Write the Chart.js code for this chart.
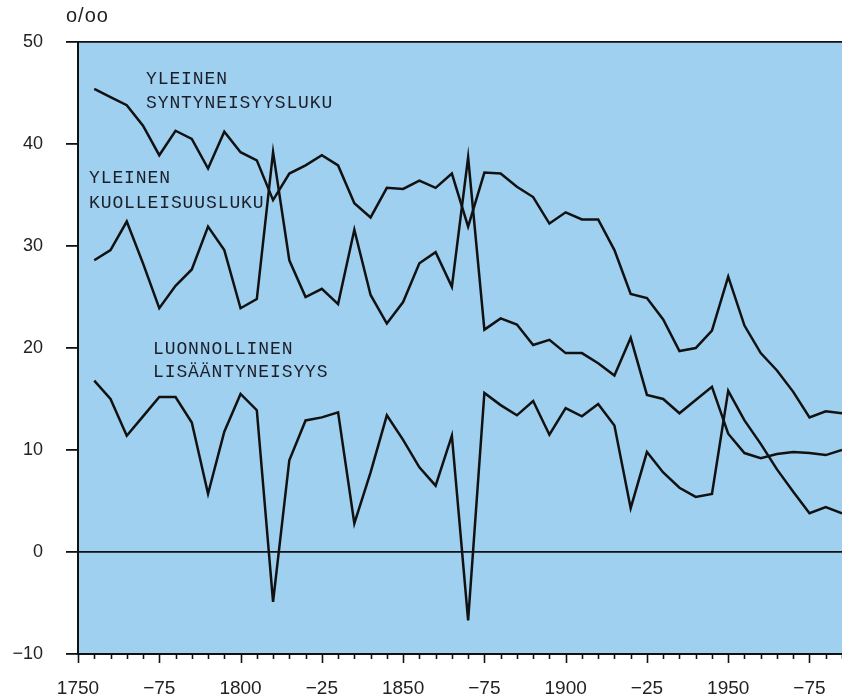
<!DOCTYPE html>
<html>
<head>
<meta charset="utf-8">
<script src="https://cdn.jsdelivr.net/npm/chart.js@4/dist/chart.umd.min.js"></script>
<style>
html,body{margin:0;padding:0;background:#fff;}
#wrap{position:relative;width:842px;height:698px;}
</style>
</head>
<body>
<div id="wrap"><canvas id="c" width="842" height="698"></canvas></div>
<script>
// ---- data (per mille, 5-year points) ----
const years = [1755,1760,1765,1770,1775,1780,1785,1790,1795,1800,1805,1810,1815,1820,1825,1830,1835,1840,1845,1850,1855,1860,1865,1870,1875,1880,1885,1890,1895,1900,1905,1910,1915,1920,1925,1930,1935,1940,1945,1950,1955,1960,1965,1970,1975,1980,1985];
const birthRate = [45.4,44.6,43.8,41.8,38.9,41.3,40.5,37.6,41.2,39.2,38.4,34.5,37.1,37.9,38.9,37.9,34.2,32.8,35.7,35.6,36.4,35.7,37.1,31.9,37.2,37.1,35.8,34.8,32.2,33.3,32.6,32.6,29.6,25.3,24.9,22.8,19.7,20.0,21.7,27.0,22.2,19.5,17.8,15.7,13.2,13.8,13.6];
const deathRate = [28.6,29.6,32.4,28.3,23.9,26.1,27.7,31.9,29.6,23.9,24.8,39.2,28.6,25.0,25.8,24.3,31.6,25.2,22.4,24.5,28.3,29.4,26.0,38.7,21.8,22.9,22.3,20.3,20.8,19.5,19.5,18.5,17.3,21.0,15.4,15.0,13.6,14.9,16.2,11.6,9.7,9.2,9.6,9.8,9.7,9.5,10.0];
const naturalIncrease = [16.8,15.0,11.4,13.3,15.2,15.2,12.7,5.7,11.8,15.5,13.9,-4.9,9.0,12.9,13.2,13.7,2.8,7.8,13.4,11.0,8.3,6.5,11.4,-6.7,15.6,14.4,13.4,14.8,11.5,14.1,13.3,14.5,12.4,4.3,9.8,7.8,6.3,5.4,5.7,15.8,12.9,10.6,8.1,5.9,3.8,4.4,3.8];
const xTickValues = [1750,1775,1800,1825,1850,1875,1900,1925,1950,1975];
const xTickLabels = ['1750','\u221275','1800','\u221225','1850','\u221275','1900','\u221225','1950','\u221275'];
const yUnitLabel = 'o/oo';
const seriesLabels = [
  ['YLEINEN','SYNTYNEISYYSLUKU'],
  ['YLEINEN','KUOLLEISUUSLUKU'],
  ['LUONNOLLINEN','LISÄÄNTYNEISYYS']
];

const toXY = arr => years.map((y,i)=>({x:y,y:arr[i]}));
const INK = '#111';

const decor = {
  id:'decor',
  beforeDraw(chart){
    const {ctx, chartArea:a} = chart;
    ctx.save();
    ctx.fillStyle = '#9fd0ef';
    ctx.fillRect(a.left, a.top, a.right-a.left, a.bottom-a.top);
    ctx.restore();
  },
  afterDraw(chart){
    const {ctx, chartArea:a} = chart;
    const xs = chart.scales.x;
    ctx.save();
    // x tick marks (major every 25, minor every 5)
    ctx.strokeStyle = INK;
    ctx.lineWidth = 1.6;
    for(let v=1750; v<=1985; v+=5){
      const px = Math.round(xs.getPixelForValue(v))+0.5;
      const len = (v%25===0) ? 9 : 5;
      ctx.beginPath();
      ctx.moveTo(px, a.bottom);
      ctx.lineTo(px, a.bottom+len);
      ctx.stroke();
    }
    // unit label
    ctx.fillStyle = '#222';
    ctx.font = '20px "Liberation Sans", Arial, sans-serif';
    ctx.textBaseline = 'alphabetic';
    try{ ctx.letterSpacing = '1px'; }catch(e){}
    ctx.fillText(yUnitLabel, 66, 22);
    // series annotations
    ctx.fillStyle = '#1b1f2a';
    ctx.font = '18px "Liberation Mono", "DejaVu Sans Mono", monospace';
    try{ ctx.letterSpacing = '0.9px'; }catch(e){}
    const pos = [[146,84,108],[89,183,208],[153,354,377]];
    seriesLabels.forEach((lines,i)=>{
      ctx.fillText(lines[0], pos[i][0], pos[i][1]);
      ctx.fillText(lines[1], pos[i][0], pos[i][2]);
    });
    ctx.restore();
  }
};

const lineStyle = {borderColor:INK, borderWidth:2.5, pointRadius:0, tension:0, fill:false, borderJoinStyle:'miter'};

new Chart(document.getElementById('c'), {
  type:'line',
  data:{
    datasets:[
      Object.assign({label:'Yleinen syntyneisyysluku', data:toXY(birthRate)}, lineStyle),
      Object.assign({label:'Yleinen kuolleisuusluku', data:toXY(deathRate)}, lineStyle),
      Object.assign({label:'Luonnollinen lisääntyneisyys', data:toXY(naturalIncrease)}, lineStyle)
    ]
  },
  options:{
    responsive:false,
    animation:false,
    parsing:true,
    layout:{padding:{top:42, right:0, left:0, bottom:0}},
    plugins:{legend:{display:false}, tooltip:{enabled:false}},
    scales:{
      x:{
        type:'linear', min:1750, max:1985,
        afterFit(s){ s.height = 44; },
        afterBuildTicks(s){ s.ticks = xTickValues.map(v=>({value:v})); },
        grid:{display:false},
        border:{display:true, color:INK, width:2},
        ticks:{
          autoSkip:false, maxRotation:0, padding:15,
          color:'#222',
          font:{family:'"Liberation Sans", Arial, sans-serif', size:19},
          callback(v){ const i = xTickValues.indexOf(v); return i>=0 ? xTickLabels[i] : null; }
        }
      },
      y:{
        min:-10, max:50,
        afterFit(s){ s.width = 78; },
        grid:{
          drawOnChartArea:true,
          color(c){ const v=c.tick && c.tick.value; return (v===0||v===50) ? INK : 'rgba(0,0,0,0)'; },
          lineWidth:1.8,
          tickColor:INK, tickLength:12, tickWidth:1.8
        },
        border:{display:true, color:INK, width:2},
        ticks:{
          stepSize:10, padding:23, color:'#222',
          font:{family:'"Liberation Sans", Arial, sans-serif', size:18},
          callback(v){ return v<0 ? '\u2212'+Math.abs(v) : String(v); }
        }
      }
    }
  },
  plugins:[decor]
});
</script>
</body>
</html>
